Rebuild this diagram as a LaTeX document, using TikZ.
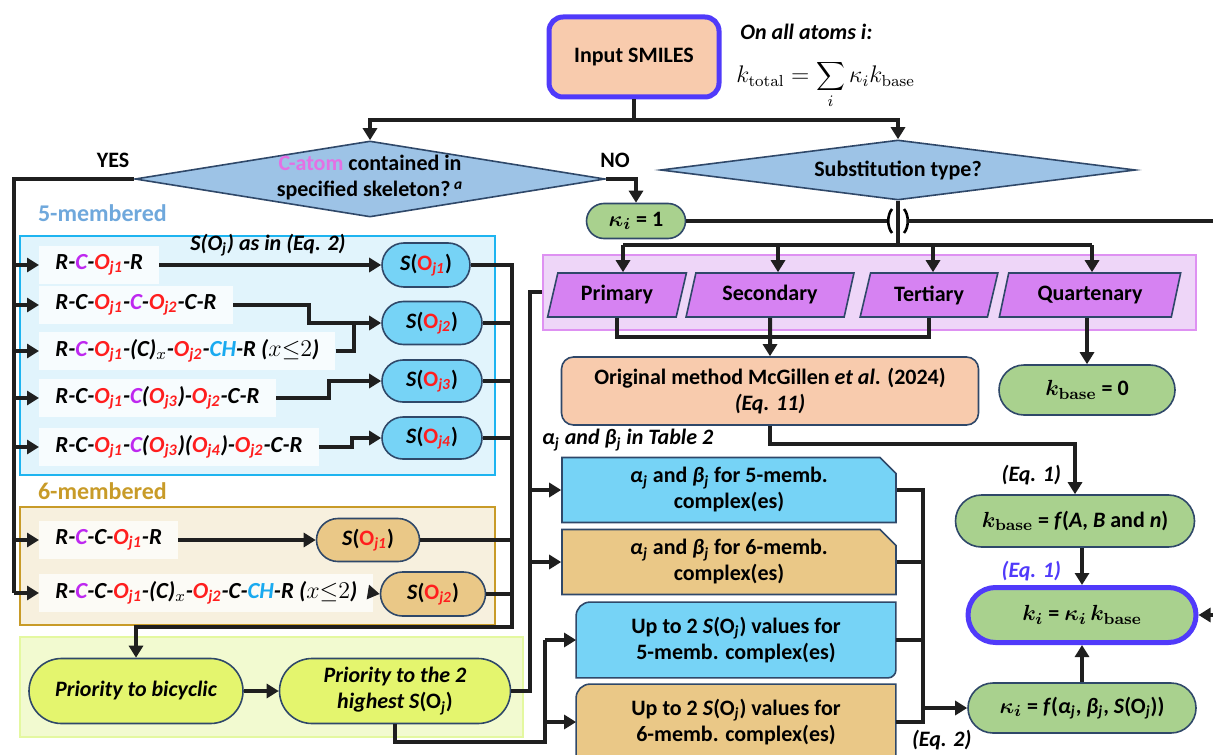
\documentclass[tikz,border=0pt]{standalone}
\usepackage[no-math]{fontspec}
\setmainfont{Carlito}
\usepackage{bm}
\usetikzlibrary{arrows.meta,shapes.geometric,shapes.misc,backgrounds}

\definecolor{peach}{RGB}{248,203,173}
\definecolor{vblue}{RGB}{80,58,250}
\definecolor{edge}{RGB}{47,72,105}
\definecolor{diafill}{RGB}{157,195,230}
\definecolor{leaf}{RGB}{169,209,142}
\definecolor{purpband}{RGB}{238,214,248}
\definecolor{purpedge}{RGB}{222,145,242}
\definecolor{purpfill}{RGB}{214,130,242}
\definecolor{skyb}{RGB}{118,211,246}
\definecolor{sand}{RGB}{234,200,135}
\definecolor{band5}{RGB}{225,244,252}
\definecolor{edge5}{RGB}{30,180,240}
\definecolor{label5}{RGB}{111,168,220}
\definecolor{band6}{RGB}{247,240,222}
\definecolor{edge6}{RGB}{200,155,40}
\definecolor{bandp}{RGB}{242,250,208}
\definecolor{edgep}{RGB}{228,248,160}
\definecolor{lime}{RGB}{228,245,110}
\definecolor{ored}{RGB}{255,30,30}
\definecolor{cpurp}{RGB}{190,40,240}
\definecolor{chcyan}{RGB}{25,170,240}
\definecolor{catom}{RGB}{228,112,228}

\newcommand{\fsz}{\fontsize{11}{13}\selectfont}
\newcommand{\rsz}{\fontsize{11.5}{14}\selectfont}
\newcommand{\rowO}[1]{\textcolor{ored}{O\textsubscript{j#1}}}
\newcommand{\rowC}{\textcolor{cpurp}{C}}
\newcommand{\rowCH}{\textcolor{chcyan}{CH}}
\newcommand{\sOj}[1]{\textit{S}(\textcolor{ored}{O\textsubscript{\textit{j#1}}})}
\newcommand{\grj}[1]{\textit{#1}\textsubscript{\textit{j}}}

\tikzset{
  flow/.style={line width=2pt, draw=black!88},
  arr/.style={flow, -{Triangle[length=6pt,width=7pt]}},
  startbox/.style={rectangle, rounded corners=7pt, draw=vblue, line width=2.5pt, fill=peach, font=\fsz\bfseries, minimum width=85pt, minimum height=40pt},
  decision/.style={diamond, draw=edge, line width=0.8pt, fill=diafill, inner sep=0pt},
  pill/.style={rounded rectangle, draw=edge, line width=0.8pt, font=\fsz\bfseries, align=center, inner sep=1pt},
  leafpill/.style={pill, fill=leaf},
  sbox/.style={pill, fill=skyb},
  tbox/.style={pill, fill=sand},
  prio/.style={pill, fill=lime, font=\fsz\bfseries\itshape},
  subtype/.style={trapezium, trapezium left angle=74, trapezium right angle=106, trapezium stretches=true, draw=edge, line width=0.8pt, fill=purpfill, font=\fsz\bfseries, minimum height=22pt, inner sep=1pt},
  rowbox/.style={anchor=west, fill=white, fill opacity=0.75, text opacity=1, font=\rsz\bfseries\itshape, minimum height=19pt, inner xsep=8pt},
  band/.style={rectangle, line width=0.8pt, inner sep=0pt},
  coefbox/.style={chamfered rectangle, chamfered rectangle corners=north east, chamfered rectangle sep=4pt, draw=edge, line width=0.8pt, font=\fsz\bfseries, align=center, minimum width=167pt, minimum height=32.5pt, inner sep=1pt},
  upbox/.style={font=\fsz\bfseries, align=center, minimum width=159.5pt, minimum height=37.5pt, inner sep=1pt},
  note/.style={font=\fsz\bfseries}
}

\begin{document}
\begin{tikzpicture}[x=0.5pt, y=-0.5pt]
  \useasboundingbox (0,0) rectangle (1213,754);

  % background bands
  \node[band, fill=band5, draw=edge5, minimum width=237.5pt, minimum height=119.5pt] (b5) at (257.5,355.5) {};
  \node[band, fill=band6, draw=edge6, minimum width=237.5pt, minimum height=59pt] (b6) at (257.5,566) {};
  \node[band, fill=bandp, draw=edgep, minimum width=251.5pt, minimum height=50pt] (bp) at (271.5,687) {};
  \node[band, fill=purpband, draw=purpedge, minimum width=326.5pt, minimum height=37.5pt] (purp) at (869.5,292.5) {};
  \node[note, anchor=west, text=label5, font=\fontsize{12}{14}\selectfont\bfseries] (lab5) at (31,213) {5-membered};
  \node[note, anchor=west, text=edge6, font=\fontsize{12}{14}\selectfont\bfseries] (lab6) at (31,491) {6-membered};

  % top
  \node[startbox] (smiles) at (634,57) {Input SMILES};
  \node[note, anchor=west, inner sep=1pt] (allatoms) at (738,32) {\itshape On all atoms i:};
  \node[anchor=west, font=\large, inner sep=0pt] (ktot) at (736,76) {$k_{\mathrm{total}} = \smash{\displaystyle\sum_i}\, \kappa_i k_{\mathrm{base}}$};

  \node[decision, minimum width=235pt, minimum height=38pt] (skel) at (370,179) {};
  \node[note, align=center] (skeltxt) at (370,178) {\textcolor{catom}{C-atom} contained in\\specified skeleton?\,\textsuperscript{\textit{a}}};
  \node[decision, minimum width=237.5pt, minimum height=30pt] (subst) at (898,170) {};
  \node[note] (substtxt) at (898,170) {Substitution type?};
  \node[note] (yes) at (113,160) {YES};
  \node[note] (no) at (615,160) {NO};

  \node[leafpill, minimum width=51.5pt, minimum height=17.5pt] (kap1) at (636,221) {$\bm{\kappa_i}$ = 1};

  % substitution types
  \node[subtype, minimum width=69.5pt] (prim) at (617,295) {Primary};
  \node[subtype, minimum width=84pt] (sec) at (770,295) {Secondary};
  \node[subtype, minimum width=69pt] (tert) at (929,295) {Tertiary};
  \node[subtype, minimum width=91pt] (quat) at (1090,295) {Quartenary};

  \node[rectangle, rounded corners=6pt, draw=edge, line width=0.8pt, fill=peach, font=\fsz\bfseries, align=center, minimum width=208.5pt, minimum height=34pt] (orig) at (770,391) {Original method McGillen \textit{et al}. (2024)\\\textit{(Eq. 11)}};
  \node[leafpill, minimum width=90pt, minimum height=25pt] (kb0) at (1087,390) {$\bm{k}_{\mathbf{base}}$ = 0};
  \node[note, anchor=west, font=\fsz\bfseries\itshape] (tab2) at (535,440) {\grj{α} and \grj{β} in Table 2};

  % right column
  \node[leafpill, minimum width=121.5pt, minimum height=26pt] (kbf) at (1075,521) {$\bm{k}_{\mathbf{base}}$ = \textit{f}(\textit{A}, \textit{B} and \textit{n})};
  \node[leafpill, draw=vblue, line width=2.5pt, minimum width=116pt, minimum height=27.5pt] (ki) at (1082,615) {$\bm{k_i}$ = $\bm{\kappa_i}\,\bm{k}_{\mathbf{base}}$};
  \node[leafpill, minimum width=116pt, minimum height=25pt] (kapf) at (1082,708) {$\bm{\kappa_i}$ = \textit{f}(\grj{α}, \grj{β}, \textit{S}(O\textsubscript{\textit{j}}))};
  \node[note, anchor=east, font=\fsz\bfseries\itshape] (eq1a) at (1068,475) {(Eq. 1)};
  \node[note, anchor=east, text=vblue, font=\fsz\bfseries\itshape] (eq1b) at (1068,571) {(Eq. 1)};
  \node[note, anchor=west, font=\fsz\bfseries\itshape] (eq2) at (905,740) {(Eq. 2)};

  % coefficient boxes
  \node[coefbox, fill=skyb] (a5) at (729,490) {\grj{α} and \grj{β} for 5-memb.\\complex(es)};
  \node[coefbox, fill=sand] (a6) at (729,562) {\grj{α} and \grj{β} for 6-memb.\\complex(es)};
  \node[upbox] (up5) at (736,640) {Up to 2 \textit{S}(O\textsubscript{\textit{j}}) values for\\5-memb. complex(es)};
  \node[upbox] (up6) at (736,722) {Up to 2 \textit{S}(O\textsubscript{\textit{j}}) values for\\6-memb. complex(es)};
  \begin{scope}[on background layer]
    \draw[line width=0.8pt, draw=edge, fill=skyb] (up5.south west) -- ([yshift=-7pt]up5.north west) arc[start angle=180, end angle=90, radius=7pt] -- (up5.north east) -- ([yshift=4pt]up5.south east) arc[start angle=0, end angle=-90, radius=4pt] -- cycle;
    \draw[line width=0.8pt, draw=edge, fill=sand] (up6.south west) -- ([yshift=-7pt]up6.north west) arc[start angle=180, end angle=90, radius=7pt] -- (up6.north east) -- (up6.south east) -- cycle;
  \end{scope}

  % 5-membered rows
  \node[rowbox] (r1) at (39,265) {R-\rowC-\rowO{1}-R};
  \node[rowbox] (r2) at (39,305) {R-C-\rowO{1}-\rowC-\rowO{2}-C-R};
  \node[rowbox] (r3) at (39,351) {R-\rowC-\rowO{1}-(C)$_x$-\rowO{2}-\rowCH-R ($x{\leq}2$)};
  \node[rowbox] (r4) at (39,398) {R-C-\rowO{1}-\rowC(\rowO{3})-\rowO{2}-C-R};
  \node[rowbox] (r5) at (39,447) {R-C-\rowO{1}-\rowC(\rowO{3})(\rowO{4})-\rowO{2}-C-R};
  \node[sbox, minimum width=46pt, minimum height=22pt] (s1) at (426,265) {\sOj{1}};
  \node[sbox, minimum width=52pt, minimum height=21.5pt] (s2) at (432,323) {\sOj{2}};
  \node[sbox, minimum width=52pt, minimum height=21pt] (s3) at (432,381) {\sOj{3}};
  \node[sbox, minimum width=52pt, minimum height=21pt] (s4) at (432,438) {\sOj{4}};
  \node[note, font=\fsz\bfseries\itshape] (seq2) at (268,245) {S(O\textsubscript{j}) as in (Eq. 2)};

  % 6-membered rows
  \node[rowbox] (r6) at (39,540) {R-\rowC-C-\rowO{1}-R};
  \node[rowbox] (r7) at (39,593) {R-\rowC-C-\rowO{1}-(C)$_x$-\rowO{2}-C-\rowCH-R ($x{\leq}2$)};
  \node[tbox, minimum width=53.5pt, minimum height=21.5pt] (t1) at (368,540) {\sOj{1}};
  \node[tbox, minimum width=54.5pt, minimum height=22pt] (t2) at (433,594) {\sOj{2}};

  % priority
  \node[prio, minimum width=109pt, minimum height=32.5pt] (bic) at (136,691) {Priority to bicyclic};
  \node[prio, minimum width=117.5pt, minimum height=32.5pt] (hi2) at (395,691) {Priority to the 2\\highest \textit{S}\textup{(O}\textsubscript{j}\textup{)}};

  % helper points
  \coordinate (split) at (634,120);
  \coordinate (yesbot) at (14,593);
  \coordinate (bus) at (898,245);
  \coordinate (hopL) at (889,221);
  \coordinate (hopR) at (907,221);
  \coordinate (redge) at (1217,221);
  \coordinate (join) at (770,337);
  \coordinate (cbus) at (512,627);
  \coordinate (lbtop) at (530,292);
  \coordinate (lb2) at (545,742);
  \coordinate (rbus) at (923,708);
  \coordinate (m2) at (309,323);
  \coordinate (m3) at (354,323);
  \coordinate (m4) at (329,381);
  \coordinate (m5) at (352,438);

  % top connectors
  \draw[flow] (smiles.south) -- (split);
  \draw[arr] (split) -| (skel.north);
  \draw[arr] (split) -| (subst.north);
  \draw[arr] (skel.east) -| (kap1.north);
  \draw[flow] (skel.west) -| (yesbot);
  \draw[flow] (kap1.east) -- (hopL);
  \draw[line width=1.3pt] (892,209) .. controls (887,215) and (887,227) .. (892,233);
  \draw[line width=1.3pt] (904,209) .. controls (909,215) and (909,227) .. (904,233);
  \draw[arr] (hopR) -- (redge) |- (ki.east);
  \draw[flow] (subst.south) -- (bus);
  \draw[flow] ([xshift=3pt]prim.north |- bus) -- ([xshift=1pt]quat.north |- bus);
  \draw[arr] ([xshift=3pt]prim.north |- bus) -- ([xshift=3pt]prim.north);
  \draw[arr] ([xshift=4pt]sec.north |- bus) -- ([xshift=4pt]sec.north);
  \draw[arr] ([xshift=2pt]tert.north |- bus) -- ([xshift=2pt]tert.north);
  \draw[arr] ([xshift=1pt]quat.north |- bus) -- ([xshift=1pt]quat.north);

  % substitution outputs
  \draw[flow] (prim.south) -- (prim.south |- join) -- (tert.south |- join) -- (tert.south);
  \draw[arr] (sec.south) -- (orig.north);
  \draw[arr] (kb0.north |- quat.south) -- (kb0.north);
  \draw[arr] (orig.south) -- ++(0,18) -| (kbf.north);
  \draw[arr] (ki.north |- kbf.south) -- (ki.north);
  \draw[arr] (kapf.north) -- (ki.south);

  % rows into S(Oj)
  \foreach \r in {r1,r2,r3,r4,r5,r6,r7}
    \draw[arr] (\r.west -| yesbot) -- (\r.west);
  \draw[arr] (r1.east) -- (s1.west);
  \draw[arr] (r2.east) -| (m2) -- (s2.west);
  \draw[flow] (r3.east) -| (m3);
  \draw[arr] (r4.east) -| (m4) -- (s3.west);
  \draw[arr] (r5.east) -| (m5) -- (s4.west);
  \draw[arr] (r6.east) -- (t1.west);
  \draw[arr] (r7.east) -- (t2.west);

  % collect S(Oj) and rank
  \draw[arr] (s1.east) -| (cbus) -| (bic.north);
  \foreach \s in {s2,s3,s4,t1,t2}
    \draw[flow] (\s.east) -- (\s.east -| cbus);
  \draw[arr] (bic.east) -- (hi2.west);
  \draw[flow] (hi2.east) -| (lbtop) -- (lbtop -| purp.west);
  \draw[arr] (a5.west -| lbtop) -- (a5.west);
  \draw[arr] (a6.west -| lbtop) -- (a6.west);
  \draw[flow] (hi2.south) |- (lb2) -- (lb2 |- up5.west);
  \draw[arr] (up5.west -| lb2) -- (up5.west);
  \draw[arr] (up6.west -| lb2) -- (up6.west);

  % into kappa_i
  \draw[flow] (a5.east) -| (rbus);
  \draw[flow] (a6.east) -- (a6.east -| rbus);
  \draw[flow] (up5.east) -- (up5.east -| rbus);
  \draw[flow] (up6.east) -| (rbus);
  \draw[arr] (rbus) -- (kapf.west);
\end{tikzpicture}
\end{document}
